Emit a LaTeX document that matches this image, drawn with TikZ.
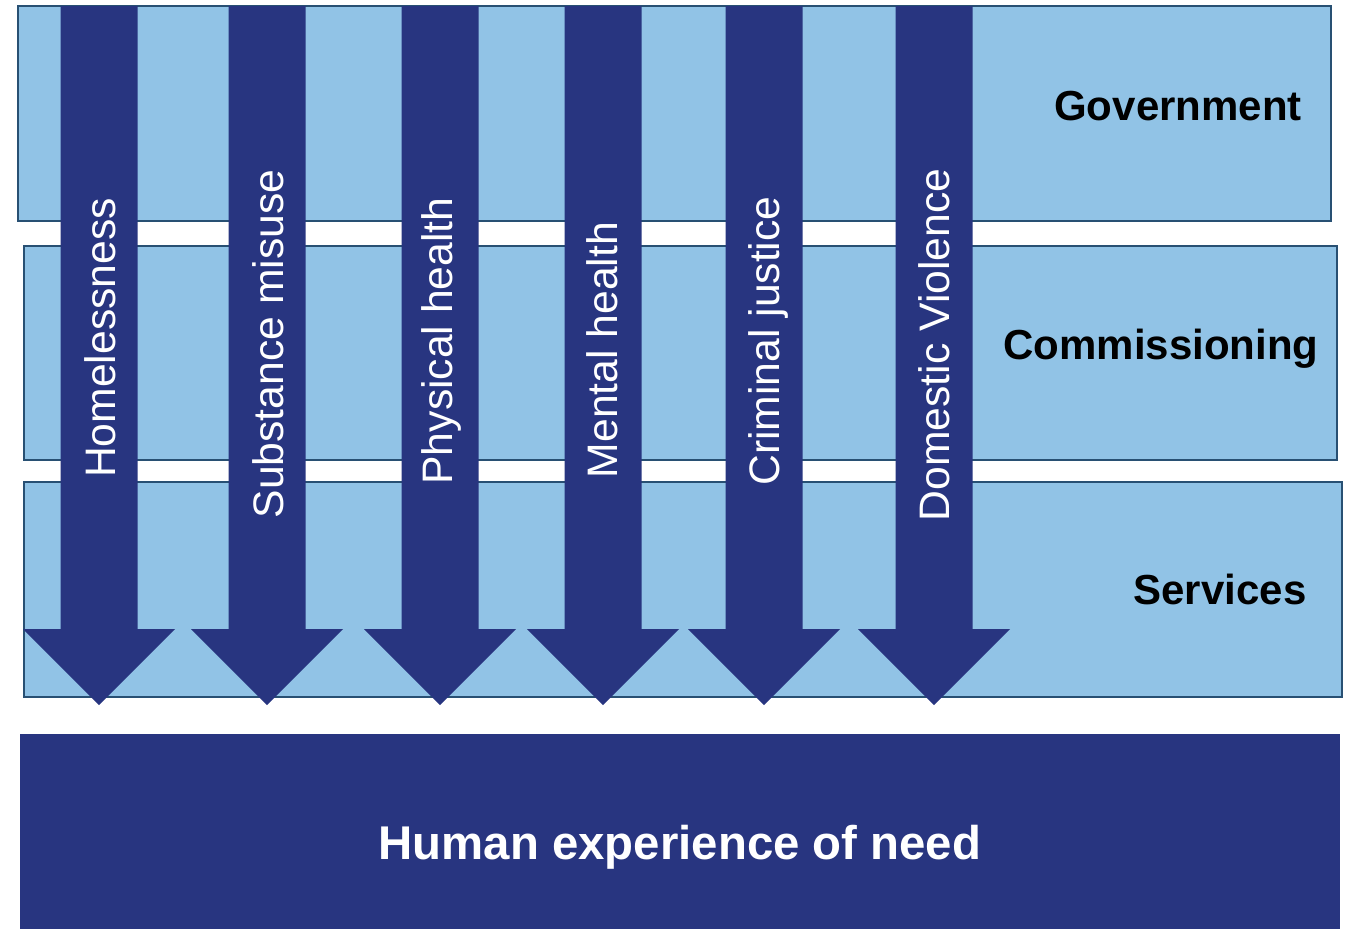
\documentclass[tikz,border=0pt]{standalone}
\usepackage{fontspec}
\setmainfont{Liberation Sans}
\begin{document}
\begin{tikzpicture}[x=0.75pt,y=-0.75pt,
  band/.style={draw=bandline,line width=1.4pt,fill=lightband},
  blockarrow/.style={fill=navy,draw=none},
  streamlabel/.style={text=white,rotate=90,font=\fontsize{32}{38}\selectfont,inner sep=0pt},
  bandlabel/.style={text=black,font=\bfseries\fontsize{31.5}{38}\selectfont,inner sep=0pt},
  needlabel/.style={text=white,font=\bfseries\fontsize{35.5}{42}\selectfont,inner sep=0pt}]
\definecolor{lightband}{RGB}{145,195,230}
\definecolor{bandline}{RGB}{40,80,115}
\definecolor{navy}{RGB}{40,53,128}

\useasboundingbox (0,0) rectangle (1353,929);

% tiers
\draw[band] (18,6) rectangle (1331,221);
\draw[band] (24,246) rectangle (1337,460);
\draw[band] (24,482) rectangle (1342,697);

% base block
\fill[navy] (20,734) rectangle (1340,929);

% downward block arrows through the tiers
\foreach \c in {99,267,440,603,764,934}{
  \fill[blockarrow] (\c-38.5,6) -- (\c+38.5,6) -- (\c+38.5,629) -- (\c+76,629)
    -- (\c,705) -- (\c-76,629) -- (\c-38.5,629) -- cycle;
}

% stream labels
\node[streamlabel] (homeless) at (100,338) {Homelessness};
\node[streamlabel] (substance) at (268,344) {Substance misuse};
\node[streamlabel] (physical) at (441,341) {Physical health};
\node[streamlabel] (mental) at (602,350) {Mental health};
\node[streamlabel] (criminal) at (768,341) {Criminal justice};
\node[streamlabel] (domestic) at (934,345) {Domestic Violence};

% tier labels
\node[bandlabel] (gov) at (1178,106) {Government};
\node[bandlabel] (comm) at (1161,349) {Commissioning};
\node[bandlabel] (serv) at (1220,589) {Services};

\node[needlabel] (need) at (680,847) {Human experience of need};
\end{tikzpicture}
\end{document}
